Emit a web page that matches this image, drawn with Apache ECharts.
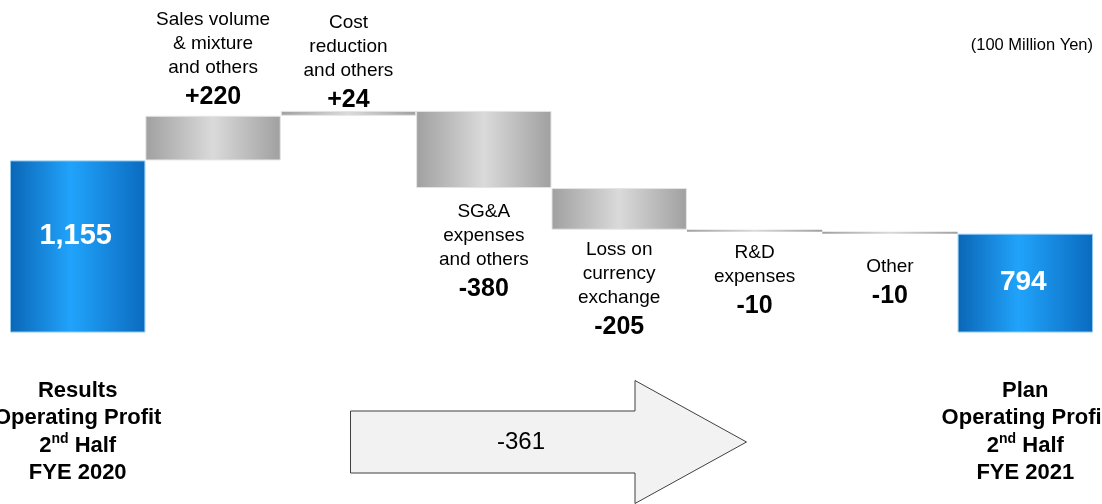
<!DOCTYPE html>
<html>
<head>
<meta charset="utf-8">
<title>Operating Profit Bridge</title>
<script src="https://cdn.jsdelivr.net/npm/echarts@6/dist/echarts.min.js"></script>
<style>
  html, body { margin: 0; padding: 0; background: #ffffff; }
  #chart { width: 1102px; height: 504px; }
</style>
</head>
<body>
<div id="chart"></div>
<script>
// Operating profit bridge, 2nd half FYE 2020 results -> FYE 2021 plan (100 million yen)
const startTotal = 1155;
const endTotal = 794;
const stepNames = [
  'Sales volume\n& mixture\nand others',
  'Cost\nreduction\nand others',
  'SG&A\nexpenses\nand others',
  'Loss on\ncurrency\nexchange',
  'R&D\nexpenses',
  'Other'
];
const stepValues = [220, 24, -380, -205, -10, -10];
const startLabel = ['Results', 'Operating Profit', '2nd Half', 'FYE 2020'];
const endLabel = ['Plan', 'Operating Profit', '2nd Half', 'FYE 2021'];
const unitNote = '(100 Million Yen)';

const FONT = '"Liberation Sans", Arial, sans-serif';

// category keys: opening total, each step, closing total
const categories = ['start'].concat(stepNames, ['end']);

// invisible base + visible segment for each waterfall column
const baseData = [0];
const barData = [startTotal];
let running = startTotal;
stepValues.forEach(function (v) {
  if (v >= 0) { baseData.push(running); barData.push(v); }
  else { baseData.push(running + v); barData.push(-v); }
  running += v;
});
baseData.push(0);
barData.push(endTotal);

const blueFill = {
  type: 'linear', x: 0, y: 0, x2: 1, y2: 0,
  colorStops: [
    { offset: 0, color: '#0a66b6' },
    { offset: 0.45, color: '#21a3fb' },
    { offset: 1, color: '#0a6bbf' }
  ]
};
const grayFill = {
  type: 'linear', x: 0, y: 0, x2: 1, y2: 0,
  colorStops: [
    { offset: 0, color: '#a0a0a0' },
    { offset: 0.5, color: '#dadada' },
    { offset: 1, color: '#a0a0a0' }
  ]
};

// gap between a step column and its caption
const captionGap = [2, -6, 12, 8, 9, 21];

function stepCaption(i) {
  const v = stepValues[i];
  const lines = stepNames[i].split('\n').map(function (s) { return '{n|' + s + '}'; });
  lines.push('{v|' + (v > 0 ? '+' : '-') + Math.abs(v) + '}');
  return lines.join('\n');
}

const visible = barData.map(function (val, idx) {
  const isTotal = idx === 0 || idx === barData.length - 1;
  if (isTotal) {
    return {
      value: val,
      itemStyle: { color: blueFill, borderColor: '#8cc8f0', borderWidth: 1 },
      label: {
        show: true, position: 'inside',
        formatter: val.toLocaleString('en-US'),
        color: '#ffffff', fontFamily: FONT, fontWeight: 'bold',
        fontSize: idx === 0 ? 29 : 28,
        offset: [-2, idx === 0 ? -10 : -1]
      }
    };
  }
  const si = idx - 1;
  return {
    value: val,
    itemStyle: { color: grayFill, borderColor: '#e4e4e4', borderWidth: val > 20 ? 1 : 0 },
    label: {
      show: true,
      position: stepValues[si] >= 0 ? 'top' : 'bottom',
      distance: captionGap[si],
      formatter: stepCaption(si),
      align: 'center',
      rich: {
        n: { fontFamily: FONT, fontSize: 19, lineHeight: 24, color: '#000000', align: 'center' },
        v: { fontFamily: FONT, fontSize: 25, fontWeight: 'bold', lineHeight: 34, color: '#000000', align: 'center' }
      }
    }
  };
});

function axisCaption(lines) {
  return lines.map(function (s) {
    const m = s.match(/^(\d)(nd|st|rd|th)(.*)$/);
    if (m) return '{b|' + m[1] + '}{sup|' + m[2] + '}{b|' + m[3] + '}';
    return '{b|' + s + '}';
  }).join('\n');
}

const chart = echarts.init(document.getElementById('chart'), null, { renderer: 'canvas' });

const delta = endTotal - startTotal;
const option = {
  animation: false,
  backgroundColor: '#ffffff',
  title: {
    text: unitNote, right: 9, top: 37, padding: 0,
    textStyle: { fontFamily: FONT, fontSize: 16.5, fontWeight: 'normal', color: '#000000' }
  },
  grid: {
    left: 10, width: 1083, top: 110.7, height: 221.3,
    containLabel: false, outerBoundsMode: 'none'
  },
  xAxis: {
    type: 'category',
    data: categories,
    axisLine: { show: false },
    axisTick: { show: false },
    splitLine: { show: false },
    axisLabel: {
      interval: 0, margin: 45,
      formatter: function (val, idx) {
        if (idx === 0) return axisCaption(startLabel);
        if (idx === categories.length - 1) return axisCaption(endLabel);
        return '';
      },
      rich: {
        b: { fontFamily: FONT, fontSize: 22, fontWeight: 'bold', lineHeight: 27.5, color: '#000000' },
        sup: { fontFamily: FONT, fontSize: 14, fontWeight: 'bold', lineHeight: 27.5, color: '#000000', verticalAlign: 'top', padding: [0, 0, 10, 0] }
      }
    }
  },
  yAxis: {
    type: 'value', min: 310, max: 1400, show: false,
    splitLine: { show: false }
  },
  series: [
    {
      type: 'bar', stack: 'bridge', barWidth: '100%', silent: true,
      itemStyle: { color: 'rgba(0,0,0,0)' },
      data: baseData
    },
    {
      type: 'bar', stack: 'bridge', barWidth: '100%', clip: true,
      data: visible
    }
  ],
  graphic: [
    {
      type: 'polygon',
      shape: {
        points: [[350.5, 411], [635, 411], [635, 380.5], [746.5, 442], [635, 503.5], [635, 473], [350.5, 473]]
      },
      style: { fill: '#f2f2f2', stroke: '#404040', lineWidth: 1 }
    },
    {
      type: 'text', x: 521, y: 442,
      style: {
        text: String(delta), fill: '#000000',
        font: '24px ' + FONT, textAlign: 'center', textVerticalAlign: 'middle'
      }
    }
  ]
};

chart.setOption(option);
</script>
</body>
</html>
